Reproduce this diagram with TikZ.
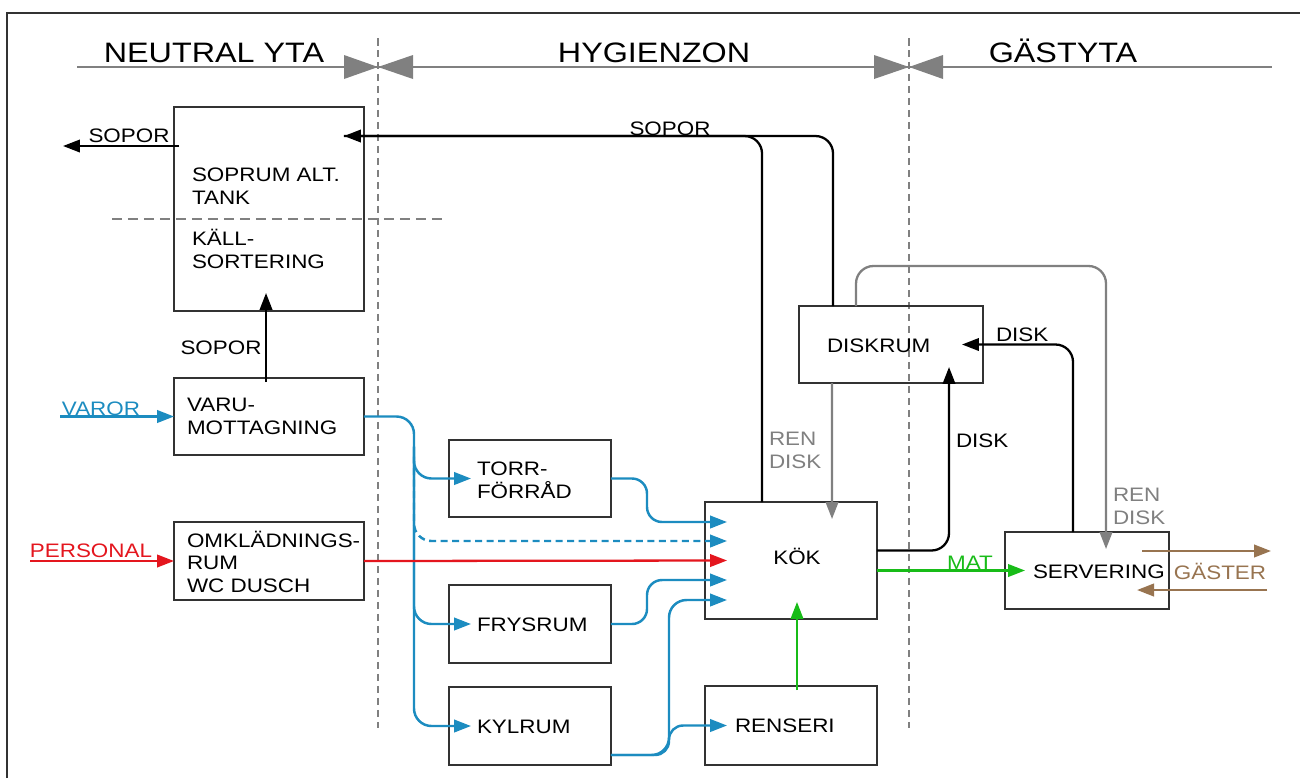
\documentclass[tikz,border=0pt]{standalone}
\usepackage{fontspec}
\setmainfont{Liberation Sans}[FakeStretch=1.15]
\usetikzlibrary{arrows.meta,calc}
\definecolor{cblue}{RGB}{28,140,192}
\definecolor{cred}{RGB}{228,22,30}
\definecolor{cgreen}{RGB}{24,188,24}
\definecolor{cgray}{RGB}{128,128,128}
\definecolor{cbrown}{RGB}{152,116,80}
\definecolor{cbox}{RGB}{50,50,50}
\tikzset{
  tip/.style={-{Triangle[length=0.34cm,width=0.25cm]}},
  roombox/.style={draw=cbox, line width=0.8pt, inner sep=0pt, outer sep=0pt},
  lbl/.style={inner sep=0pt, outer sep=0pt, font=\fontsize{11.1}{12.6}\selectfont, align=left},
  head/.style={inner sep=0pt, outer sep=0pt, font=\fontsize{16}{18}\selectfont},
  zone/.style={cgray, line width=1pt, dash pattern=on 0.15cm off 0.09cm},
  sep/.style={cgray, line width=0.8pt, dash pattern=on 0.2cm off 0.12cm},
  bl/.style={cblue, line width=1.4pt, tip},
  bldash/.style={cblue, line width=1.4pt, tip, dash pattern=on 0.14cm off 0.09cm},
  rd/.style={cred, line width=1.3pt, tip},
  gn/.style={cgreen, line width=1.3pt, tip},
  bk/.style={black, line width=1.3pt, tip},
  bkline/.style={black, line width=1.3pt},
  gr/.style={cgray, line width=1.3pt, tip},
  br/.style={cbrown, line width=1.4pt, tip},
}
\begin{document}
\begin{tikzpicture}[x=0.02cm,y=-0.02cm]
\useasboundingbox (0,0) rectangle (1300,778);
\fill[white] (0,0) rectangle (1300,778);
% frame
\draw[cbox, line width=1.3pt] (7,778) -- (7,13) -- (1300,13);
% header
\draw[cgray, line width=1pt] (77,67) -- (1272,67);
\fill[cgray] (344,55) -- (378,67) -- (344,79) -- cycle;
\fill[cgray] (413,55) -- (378,67) -- (413,79) -- cycle;
\fill[cgray] (874,55) -- (909,67) -- (874,79) -- cycle;
\fill[cgray] (943,55) -- (909,67) -- (943,79) -- cycle;
\node[head, anchor=base] (hneutral) at (214,62) {NEUTRAL YTA};
\node[head, anchor=base] (hhyg) at (654,62) {HYGIENZON};
\node[head, anchor=base] (hgast) at (1063,62) {GÄSTYTA};
% zone dividers
\coordinate (z1a) at (378,38); \coordinate (z1b) at (378,728);
\coordinate (z2a) at (909,38); \coordinate (z2b) at (909,728);
\draw[zone] (z1a) -- (z1b);
\draw[zone] (z2a) -- (z2b);
\coordinate (sepa) at (112,219); \coordinate (sepb) at (443,219);
\draw[sep] (sepa) -- (sepb);
% boxes
\node[roombox, minimum width=3.8cm, minimum height=4.08cm] (sop) at (269,209) {};
\node[roombox, minimum width=3.8cm, minimum height=1.54cm] (varu) at (269,416.5) {};
\node[roombox, minimum width=3.8cm, minimum height=1.56cm] (omk) at (269,561) {};
\node[roombox, minimum width=3.24cm, minimum height=1.54cm] (torr) at (530,478.5) {};
\node[roombox, minimum width=3.24cm, minimum height=1.56cm] (frys) at (530,624) {};
\node[roombox, minimum width=3.24cm, minimum height=1.56cm] (kyl) at (530,726) {};
\node[roombox, minimum width=3.44cm, minimum height=2.34cm] (kok) at (791,560.5) {};
\node[roombox, minimum width=3.44cm, minimum height=1.58cm] (rens) at (791,725.5) {};
\node[roombox, minimum width=3.68cm, minimum height=1.54cm] (disk) at (891,344.5) {};
\node[roombox, minimum width=3.28cm, minimum height=1.54cm] (serv) at (1087,570.5) {};
% box texts (base = last line)
\node[lbl, anchor=base west] (tsop1) at (192,204) {SOPRUM ALT.\\TANK};
\node[lbl, anchor=base west] (tsop2) at (192,268) {KÄLL-\\SORTERING};
\node[lbl, anchor=base west] (tvaru) at (187,434) {VARU-\\MOTTAGNING};
\node[lbl, anchor=base west] (tomk) at (187,592) {OMKLÄDNINGS-\\RUM\\WC DUSCH};
\node[lbl, anchor=base west] (ttorr) at (477,498) {TORR-\\FÖRRÅD};
\node[lbl, anchor=base west] (tfrys) at (477,631) {FRYSRUM};
\node[lbl, anchor=base west] (tkyl) at (477,733) {KYLRUM};
\node[lbl, anchor=base] (tkok) at (797,564) {KÖK};
\node[lbl, anchor=base west] (trens) at (735,732) {RENSERI};
\node[lbl, anchor=base west] (tdisk) at (827,352) {DISKRUM};
\node[lbl, anchor=base west] (tserv) at (1033,578) {SERVERING};
% coordinates
\coordinate (k1) at ($(kok.west)+(22,-38.5)$);
\coordinate (k2) at ($(kok.west)+(22,-19.5)$);
\coordinate (k3) at ($(kok.west)+(22,0)$);
\coordinate (k4) at ($(kok.west)+(22,19.5)$);
\coordinate (k5) at ($(kok.west)+(22,39.5)$);
\coordinate (bus) at (414,416.5);
\coordinate (sx) at (647,0);
\coordinate (vx) at (669,0);
\coordinate (kylout) at ($(kyl.south east)+(0,-10)$);
\coordinate (rtip) at ($(rens.west)+(22,0)$);
\coordinate (varin) at (60,416.5);
\coordinate (persin) at (30,561);
\coordinate (sopoutend) at (63,146);
\coordinate (sopin) at ($(sop.north east)+(-20,29)$);
\coordinate (kokA) at ($(kok.north west)+(57,0)$);
\coordinate (diskA) at ($(disk.north west)+(34,0)$);
\coordinate (grtop) at (1106,266);
\coordinate (g1) at (1142,551); \coordinate (g2) at (1271,551);
\coordinate (g3) at (1267,590); \coordinate (g4) at (1137,590);
% blue flows
\draw[bl] (varin) -- (varin -| varu.west);
\draw[bldash, rounded corners=0.35cm] ($(bus)+(0,40)$) |- (k2);
\draw[bl, rounded corners=0.35cm] (varu.east) -- (bus) |- ($(kyl.west)+(22,0)$);
\draw[bl, rounded corners=0.35cm] ($(bus)+(0,30)$) |- ($(torr.west)+(22,0)$);
\draw[bl, rounded corners=0.35cm] ($(bus)+(0,30)$) |- ($(frys.west)+(22,0)$);
\draw[bl, rounded corners=0.3cm] (torr.east) -| (sx |- k1) -- (k1);
\draw[bl, rounded corners=0.3cm] (frys.east) -| (sx |- k4) -- (k4);
\draw[bl, rounded corners=0.35cm] (kylout) -| (vx |- k5) -- (k5);
\draw[bl, rounded corners=0.28cm] (kylout) -| (vx |- rtip) -- (rtip);
% red flows
\draw[rd] (persin) -- (omk.west);
\draw[rd] (omk.east) -- (k3);
% black flows
\draw[bk] ($(sopoutend -| sop.west)+(5,0)$) -- (sopoutend);
\draw[bkline, rounded corners=0.35cm] (diskA) |- (sopin);
\draw[bk, rounded corners=0.35cm] (kokA) |- (sopin);
\draw[bk] ($(varu.north west)+(92,4)$) -- ($(sop.south west)+(92,-18)$);
\draw[bk, rounded corners=0.35cm] ($(kok.east)+(0,-10)$) -| ($(disk.south west)+(150,-16)$);
\draw[bk, rounded corners=0.35cm] ($(serv.north west)+(68,0)$) |- ($(disk.east)+(-21,0)$);
% gray flows
\draw[gr] ($(disk.south west)+(33,0)$) -- ($(kok.north west)+(127,17)$);
\draw[gr, rounded corners=0.35cm] ($(disk.north west)+(57,0)$) |- (grtop) -- ($(serv.north west)+(101,17)$);
% green flows
\draw[gn] ($(kok.east)+(0,10)$) -- ($(serv.west)+(20,0)$);
\draw[gn] ($(rens.north)+(6,4)$) -- ($(kok.south)+(6,-17)$);
% brown flows
\draw[br] (g1) -- (g2);
\draw[br] (g3) -- (g4);
% labels
\node[lbl, anchor=base] (lsop1) at (129,142) {SOPOR};
\node[lbl, anchor=base] (lsop2) at (670,135) {SOPOR};
\node[lbl, anchor=base] (lsop3) at (221,354) {SOPOR};
\node[lbl, text=cblue, anchor=base] (lvar) at (101,415) {VAROR};
\node[lbl, text=cred, anchor=base] (lpers) at (91,557) {PERSONAL};
\node[lbl, text=cgray, anchor=base west] (lren1) at (769,468) {REN\\DISK};
\node[lbl, anchor=base west] (ldisk1) at (956,447) {DISK};
\node[lbl, anchor=base west] (ldisk2) at (996,341) {DISK};
\node[lbl, text=cgray, anchor=base west] (lren2) at (1113,524) {REN\\DISK};
\node[lbl, text=cgreen, anchor=base] (lmat) at (970,569) {MAT};
\node[lbl, text=cbrown, anchor=base] (lgast) at (1220,579) {GÄSTER};
\end{tikzpicture}
\end{document}
